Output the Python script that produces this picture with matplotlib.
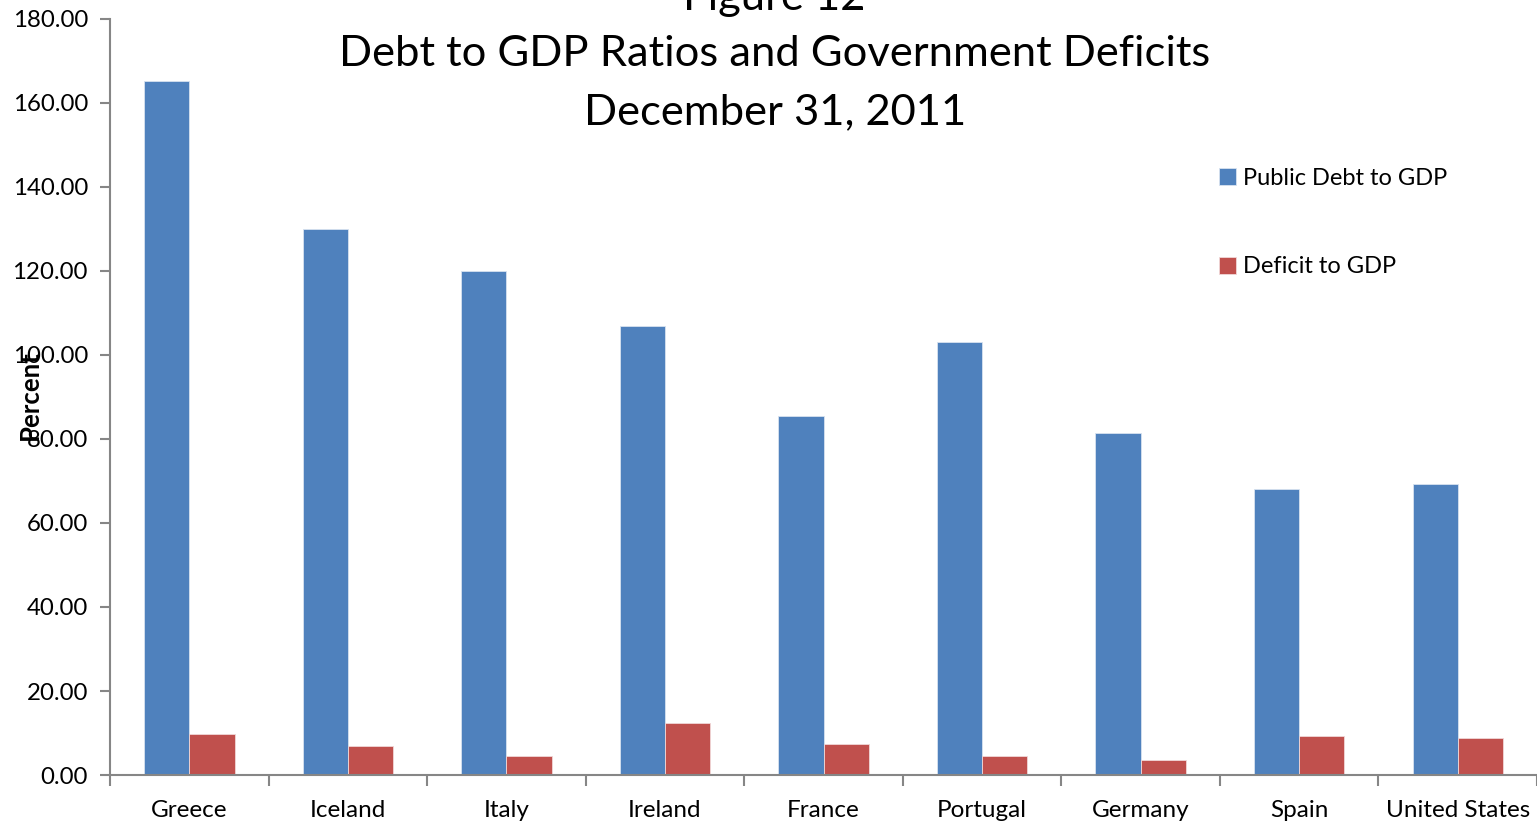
import numpy as np
import matplotlib
matplotlib.use("Agg")
from matplotlib import pyplot as plt
from matplotlib.ticker import FixedLocator, FormatStrFormatter

plt.rcParams['font.family'] = ['Lato', 'DejaVu Sans']

countries = ["Greece", "Iceland", "Italy", "Ireland", "France",
             "Portugal", "Germany", "Spain", "United States"]
debt_to_gdp = [165.3, 130.0, 120.0, 106.9, 85.5, 103.1, 81.4, 68.1, 69.3]
deficit_to_gdp = [9.8, 6.9, 4.5, 12.4, 7.4, 4.5, 3.6, 9.3, 8.8]

blue = "#4F81BD"
red = "#C0504D"
axis_gray = "#868686"

fig = plt.figure(figsize=(15.37, 8.25), dpi=100)
ax = fig.add_axes([0.0716, 0.0606, 0.9284, 0.9164])

x = np.arange(len(countries))
w = 0.285
ax.bar(x - w / 2, debt_to_gdp, w, color=blue, edgecolor="#d8e2f0", linewidth=0.6,
       label="Public Debt to GDP")
ax.bar(x + w / 2, deficit_to_gdp, w, color=red, edgecolor="#f0d8d8", linewidth=0.6,
       label="Deficit to GDP")

ax.set_xlim(-0.5, len(countries) - 0.5)
ax.set_ylim(0, 180)
ax.set_yticks(np.arange(0, 181, 20))
ax.yaxis.set_major_formatter(FormatStrFormatter("%.2f"))
ax.set_xticks(x)
ax.set_xticklabels(countries, fontsize=17.5)
ax.xaxis.set_minor_locator(FixedLocator(np.arange(-0.5, len(countries), 1.0)))
ax.tick_params(axis="x", which="major", length=0, pad=18)
ax.tick_params(axis="x", which="minor", length=8, width=1.5, color=axis_gray)
ax.tick_params(axis="y", length=7, width=1.5, color=axis_gray, labelsize=17.3, pad=9)

for side in ["top", "right"]:
    ax.spines[side].set_visible(False)
for side in ["left", "bottom"]:
    ax.spines[side].set_color(axis_gray)
    ax.spines[side].set_linewidth(1.5)

# axis title sits over the tick labels, as in the original
fig.text(0.0195, 0.521, "Percent", rotation=90, fontsize=18.5, fontweight="bold",
         ha="center", va="center")

fig.text(0.504, 1.003, "Figure 12", fontsize=31.3, ha="center", va="center")
fig.text(0.504, 0.935, "Debt to GDP Ratios and Government Deficits", fontsize=31.3,
         ha="center", va="center")
fig.text(0.504, 0.864, "December 31, 2011", fontsize=31.3, ha="center", va="center")

ax.legend(loc="upper left", bbox_to_anchor=(0.7855, 0.8105), bbox_transform=fig.transFigure,
          frameon=False, fontsize=17, handlelength=0.72, handleheight=0.72,
          handletextpad=0.3, labelspacing=2.85, borderpad=0)

fig.savefig("out.png", dpi=100)
